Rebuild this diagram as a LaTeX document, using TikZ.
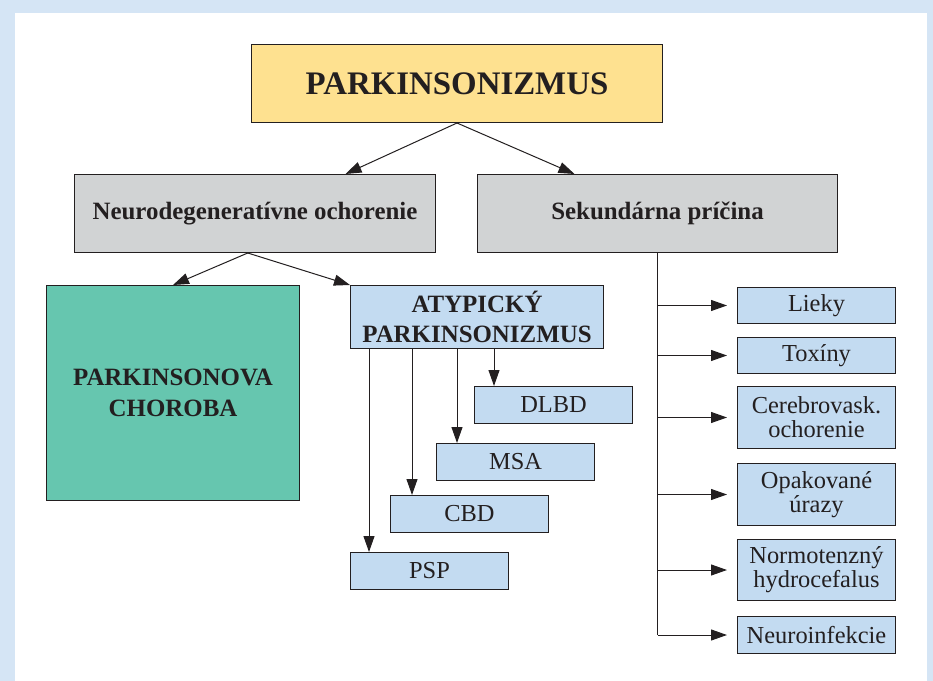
\documentclass[tikz,border=0pt]{standalone}
\usepackage{fontspec}
\setmainfont{Liberation Serif}
\usetikzlibrary{arrows.meta,calc}
\definecolor{bgblue}{HTML}{D5E5F5}
\definecolor{ttlyellow}{HTML}{FEE190}
\definecolor{boxgray}{HTML}{D1D3D4}
\definecolor{boxteal}{HTML}{66C6AF}
\definecolor{boxblue}{HTML}{C3DBF1}
\definecolor{lin}{HTML}{231F20}
\tikzset{
  box/.style={draw=lin, text=lin, line width=1bp, inner sep=0pt, align=center, anchor=north west},
  reg/.style={font=\fontsize{24.5}{24}\selectfont},
  bld/.style={font=\fontsize{25}{30.5}\selectfont\bfseries},
  arr/.style={draw=lin, line width=1bp, -{Triangle[length=16bp,width=11bp]}},
  trunk/.style={draw=lin, line width=1bp}
}
\begin{document}
\begin{tikzpicture}[x=1bp,y=-1bp]
\useasboundingbox (0,0) rectangle (933,681);
\fill[bgblue] (0,0) rectangle (933,681);
\fill[white] (15,13) rectangle (927,681);
% top
\node[box, fill=ttlyellow, minimum width=411bp, minimum height=78bp, font=\fontsize{33}{36}\selectfont\bfseries] (title) at (251,44) {PARKINSONIZMUS};
\node[box, fill=boxgray, minimum width=361bp, minimum height=78bp, bld] (neuro) at (74,174) {Neurodegeneratívne ochorenie};
\node[box, fill=boxgray, minimum width=360bp, minimum height=78bp, bld] (sek) at (477,174) {Sekundárna príčina};
% left branch
\node[box, fill=boxteal, minimum width=253bp, minimum height=215bp, bld] (pd) at (46,285) {PARKINSONOVA\\CHOROBA};
\node[box, fill=boxblue, minimum width=253bp, minimum height=63bp, bld] (atyp) at (350,285) {ATYPICKÝ\\PARKINSONIZMUS};
\node[box, fill=boxblue, minimum width=158bp, minimum height=37bp, reg] (dlbd) at (474,386) {DLBD};
\node[box, fill=boxblue, minimum width=158bp, minimum height=37bp, reg] (msa) at (436,443) {MSA};
\node[box, fill=boxblue, minimum width=158bp, minimum height=37bp, reg] (cbd) at (390,495) {CBD};
\node[box, fill=boxblue, minimum width=158bp, minimum height=37bp, reg] (psp) at (350,552) {PSP};
% right branch
\node[box, fill=boxblue, minimum width=158bp, minimum height=36bp, reg] (lieky) at (737,287) {Lieky};
\node[box, fill=boxblue, minimum width=158bp, minimum height=36bp, reg] (tox) at (737,337) {Toxíny};
\node[box, fill=boxblue, minimum width=158bp, minimum height=62bp, reg] (cereb) at (737,386) {Cerebrovask.\\ochorenie};
\node[box, fill=boxblue, minimum width=158bp, minimum height=62bp, reg] (opak) at (737,463) {Opakované\\úrazy};
\node[box, fill=boxblue, minimum width=158bp, minimum height=61bp, reg] (normo) at (737,539) {Normotenzný\\hydrocefalus};
\node[box, fill=boxblue, minimum width=158bp, minimum height=37bp, reg] (infek) at (737,616) {Neuroinfekcie};
% connectors top
\draw[arr] ($(title.south west)!0.5!(title.south east)$) -- ($(neuro.north west)!0.75!(neuro.north east)$);
\draw[arr] ($(title.south west)!0.5!(title.south east)$) -- ($(sek.north west)!0.27!(sek.north east)$);
\coordinate (nsrc) at ($(neuro.south west)!0.48!(neuro.south east)$);
\draw[arr] (nsrc) -- ($(pd.north west)!0.5!(pd.north east)$);
\draw[arr] (nsrc) -- (atyp.north west);
% atypical children
\coordinate (c1) at (369,0);
\coordinate (c2) at (412,0);
\coordinate (c3) at (457,0);
\coordinate (c4) at (494,0);
\draw[arr] (atyp.south west -| c1) -- (c1 |- psp.north west);
\draw[arr] (atyp.south west -| c2) -- (c2 |- cbd.north west);
\draw[arr] (atyp.south west -| c3) -- (c3 |- msa.north west);
\draw[arr] (atyp.south west -| c4) -- (c4 |- dlbd.north west);
% secondary trunk
\coordinate (sbot) at ($(sek.south west)!0.5!(sek.south east)$);
\draw[trunk] (sbot) -- (sbot |- infek.west);
\foreach \n in {lieky,tox,cereb,opak,normo,infek}{
  \draw[arr] (sbot |- \n.west) -- ([xshift=-10bp]\n.west);
}
\end{tikzpicture}
\end{document}
